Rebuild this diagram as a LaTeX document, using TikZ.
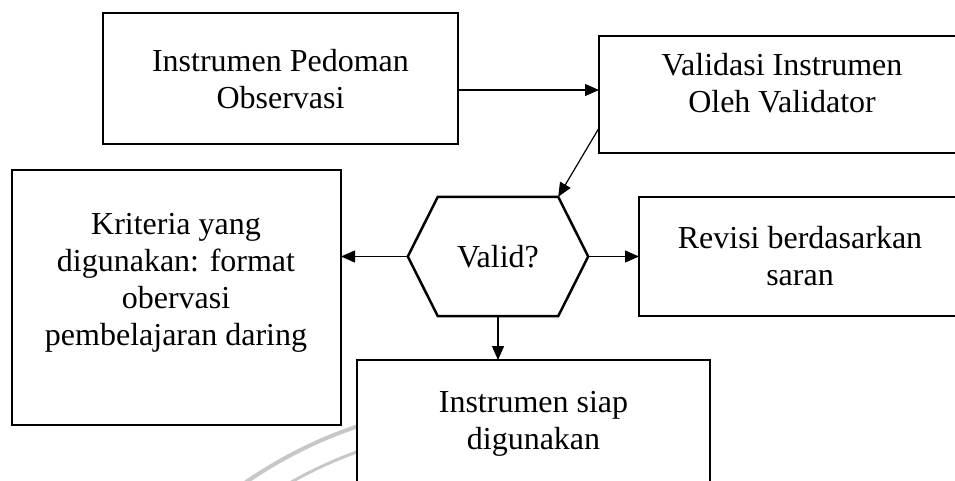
\documentclass[tikz,border=0pt]{standalone}
\usepackage{fontspec}
\setmainfont{Liberation Serif}
\usetikzlibrary{arrows.meta,calc}
\begin{document}
\begin{tikzpicture}[x=1pt,y=-1pt,
  box/.style={draw,line width=2.5pt,fill=white,inner sep=0pt,outer sep=0pt},
  lbl/.style={align=center,font=\fontsize{32}{37}\selectfont,inner sep=0pt},
  arr/.style={line width=1.2pt,-{Triangle[length=14pt,width=12pt]}},
  wm/.style={draw=black!22,line width=4pt}]
\useasboundingbox (0,0) rectangle (955,480);
% faint watermark arcs
\draw[wm] (500,850) ++(232:447) arc[start angle=232,end angle=258,radius=447];
\draw[wm,line width=3pt] (500,850) ++(232:423) arc[start angle=232,end angle=258,radius=423];
% boxes
\node[box,minimum width=355pt,minimum height=131pt] (b1) at (280.5,78.5) {};
\node[box,minimum width=366pt,minimum height=117pt] (b2) at (782,94.5) {};
\node[box,minimum width=329pt,minimum height=255pt] (b3) at (176.5,297.5) {};
\node[box,minimum width=322pt,minimum height=119pt] (b4) at (800,256.5) {};
\node[box,minimum width=353pt,minimum height=160pt] (b5) at (533.5,440) {};
% decision hexagon
\node[lbl,minimum width=180pt,minimum height=119pt] (valid) at (498,256.5) {Valid?};
\coordinate (vtl) at ([xshift=30pt]valid.north west);
\coordinate (vtr) at ([xshift=-30pt]valid.north east);
\coordinate (vbr) at ([xshift=-30pt]valid.south east);
\coordinate (vbl) at ([xshift=30pt]valid.south west);
\draw[line width=2.5pt,line join=miter] (valid.west) -- (vtl) -- (vtr) -- (valid.east) -- (vbr) -- (vbl) -- cycle;
% texts
\node[lbl] (t1) at (280.5,79) {Instrumen Pedoman\\Observasi};
\node[lbl] (t2) at (782,83) {Validasi Instrumen\\Oleh Validator};
\node[lbl] (t3) at (176,282.5) {Kriteria yang\\digunakan: format\\obervasi\\pembelajaran daring};
\node[lbl] (t4) at (800,256.5) {Revisi berdasarkan\\saran};
\node[lbl] (t5) at (533.5,424) {Instrumen siap\\digunakan};
% connectors
\coordinate (a1) at ([yshift=-11.5pt]b1.east);
\draw[arr] (a1) -- (a1 -| b2.west);
\coordinate (a2) at ([yshift=-33.5pt]b2.west);
\draw[arr] (a2) -- (vtr);
\draw[arr] (valid.west) -- (valid.west -| b3.east);
\draw[arr] (valid.east) -- (b4.west);
\draw[arr] (valid.south) -- (valid.south |- b5.north);
\end{tikzpicture}
\end{document}
